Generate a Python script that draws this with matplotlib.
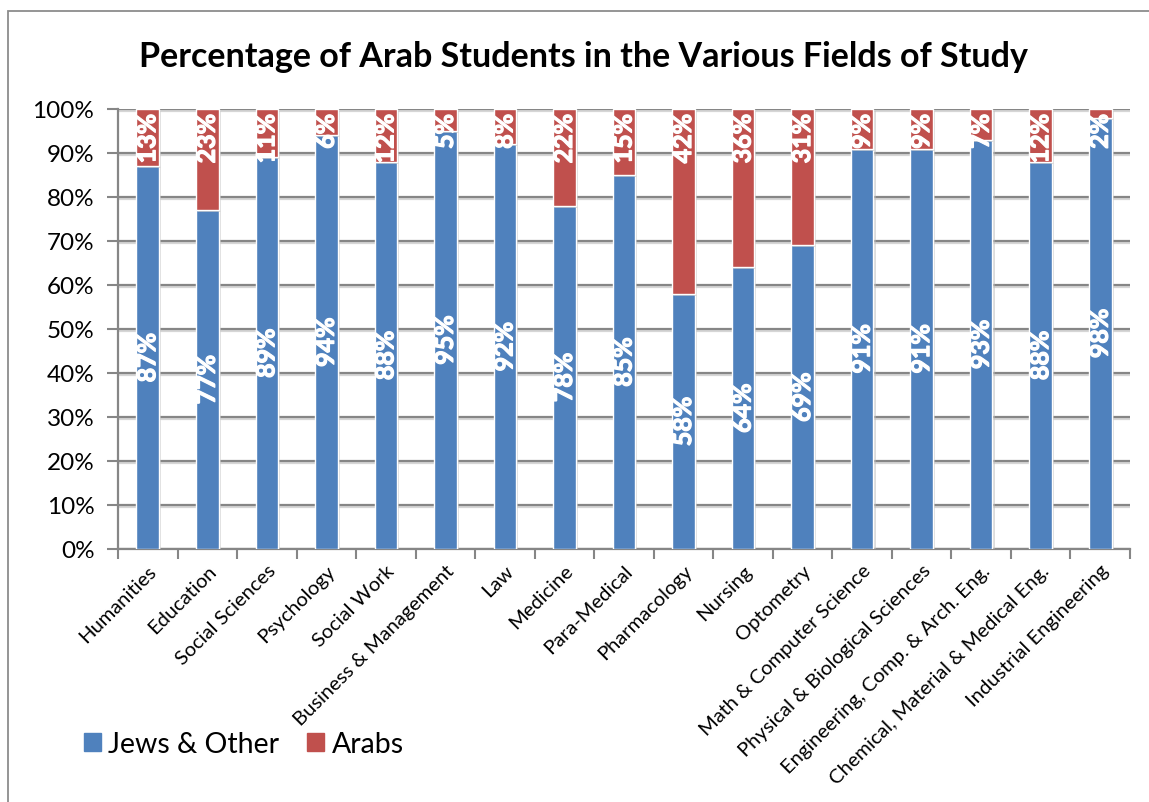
import matplotlib
matplotlib.use("Agg")
import matplotlib.pyplot as plt
import matplotlib.patches as mpatches
import matplotlib.patheffects as pe
import numpy as np

categories = ["Humanities", "Education", "Social Sciences", "Psychology", "Social Work",
              "Business & Management", "Law", "Medicine", "Para-Medical", "Pharmacology",
              "Nursing", "Optometry", "Math & Computer Science", "Physical & Biological Sciences",
              "Engineering, Comp. & Arch. Eng.", "Chemical, Material & Medical Eng.",
              "Industrial Engineering"]
jews_other = [87, 77, 89, 94, 88, 95, 92, 78, 85, 58, 64, 69, 91, 91, 93, 88, 98]
arabs = [13, 23, 11, 6, 12, 5, 8, 22, 15, 42, 36, 31, 9, 9, 7, 12, 2]
series_names = ["Jews & Other", "Arabs"]
yticks = [0, 10, 20, 30, 40, 50, 60, 70, 80, 90, 100]
title = "Percentage of Arab Students in the Various Fields of Study"

BLUE = "#4F81BD"
RED = "#C0504D"
GRID = "#868686"
FONT = "Lato"

plt.rcParams['font.family'] = [FONT, 'DejaVu Sans']

fig = plt.figure(figsize=(11.49, 8.03), dpi=100)
ax = fig.add_axes([118/1149, 1-550/803, (1130-118)/1149, (550-110)/803])

# chart border
border = mpatches.Rectangle((8/1149, -0.05), 1.2, 1-12/803+0.05, transform=fig.transFigure,
                            fill=False, edgecolor="#8c8c8c", linewidth=1.3, clip_on=False)
fig.patches.append(border)

x = np.arange(len(categories))
w = 0.38
shadow = [pe.SimplePatchShadow(offset=(1.5, -1.5), shadow_rgbFace="#bbbbbb", alpha=0.5), pe.Normal()]
b1 = ax.bar(x, jews_other, w, color=BLUE, edgecolor="white", linewidth=1.0, zorder=3,
            label=series_names[0])
b2 = ax.bar(x, arabs, w, bottom=jews_other, color=RED, edgecolor="white", linewidth=1.0,
            zorder=3, label=series_names[1])
for p in list(b1) + list(b2):
    p.set_path_effects(shadow)

lbl_fx = [pe.withStroke(linewidth=0.9, foreground="white")]
for xi, j, a in zip(x, jews_other, arabs):
    ax.text(xi, j / 2, f"{j}%", rotation=90, ha="center", va="center", color="white",
            fontsize=18, fontweight="bold", zorder=5, path_effects=lbl_fx)
    ax.text(xi, 98.9, f"{a}%", rotation=90, ha="center", va="top", color="white",
            fontsize=18, fontweight="bold", zorder=5, path_effects=lbl_fx)

ax.set_xlim(-0.5, len(categories) - 0.5)
ax.set_ylim(0, 100)
ax.set_yticks(yticks)
ax.set_yticklabels([f"{t}%" for t in yticks], fontsize=17.5)
ax.yaxis.grid(True, color=GRID, linewidth=1.6, zorder=0,
              path_effects=[pe.SimpleLineShadow(offset=(0, -1.5), shadow_color="#cccccc", alpha=0.8), pe.Normal()])
ax.set_axisbelow(True)

ax.set_xticks(x)
ax.set_xticklabels(categories, rotation=45, ha="right", rotation_mode="anchor", fontsize=14.5)
ax.set_xticks(np.arange(len(categories) + 1) - 0.5, minor=True)
ax.tick_params(axis="x", which="major", length=0, pad=9)
ax.tick_params(axis="x", which="minor", length=7, color=GRID, width=1.5)
ax.tick_params(axis="y", which="major", length=8, color=GRID, width=1.5, pad=9)

for s in ["top", "right"]:
    ax.spines[s].set_visible(False)
for s in ["left", "bottom"]:
    ax.spines[s].set_color(GRID)
    ax.spines[s].set_linewidth(1.6)

fig.text(583/1149, 1-57/803, title, ha="center", va="center", fontsize=24.5, fontweight="bold")

handles = [mpatches.Patch(color=BLUE), mpatches.Patch(color=RED)]
fig.legend(handles, series_names, loc="center left", bbox_to_anchor=(58/1149, 1-745/803),
           ncol=2, frameon=False, fontsize=20.5, handlelength=0.6, handleheight=0.6,
           handletextpad=0.25, columnspacing=1.0)

fig.savefig("out.png", dpi=100)
